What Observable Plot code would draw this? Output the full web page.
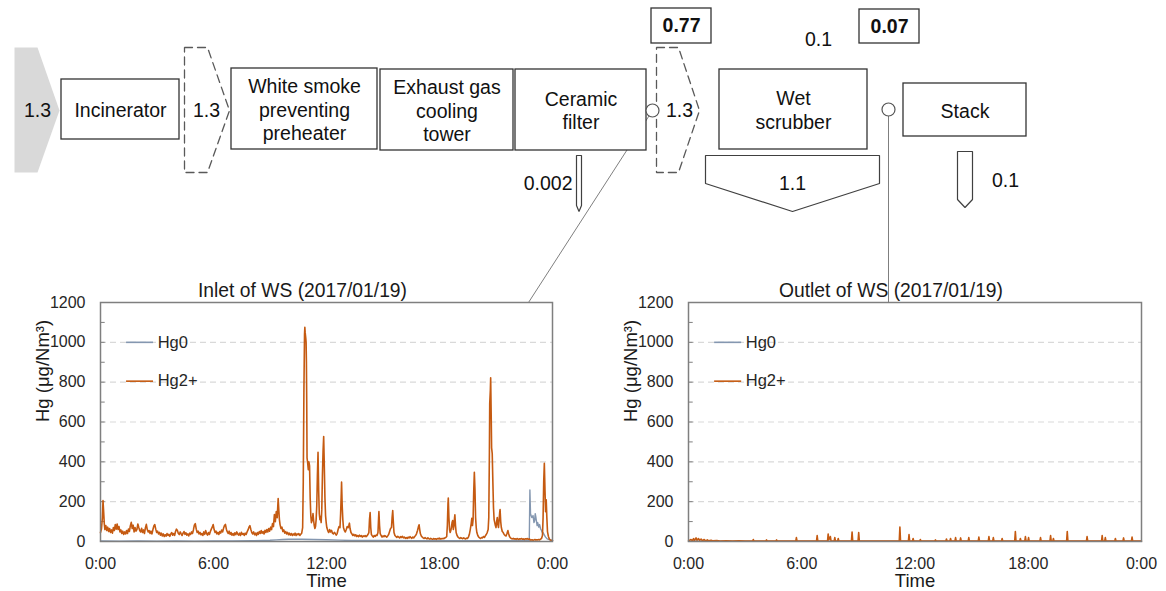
<!DOCTYPE html>
<html>
<head>
<meta charset="utf-8">
<script src="https://cdn.jsdelivr.net/npm/d3@7"></script>
<script src="https://cdn.jsdelivr.net/npm/@observablehq/plot@0.6"></script>
<style>
  html, body { margin: 0; padding: 0; background: #fff; }
  #fig { position: relative; width: 1166px; height: 591px; overflow: hidden; }
  #fig > div { position: absolute; }
</style>
</head>
<body>
<div id="fig">
  <div id="inlet" style="left:0;top:270px"></div>
  <div id="outlet" style="left:583px;top:270px"></div>
  <div id="flow" style="left:0;top:0"></div>
</div>
<script>
// ---------- process flow values (Hg balance) ----------
const unitNames = ["Incinerator", "White smoke\npreventing\npreheater", "Exhaust gas\ncooling\ntower", "Ceramic\nfilter", "Wet\nscrubber", "Stack"];
const gasFlow = [1.3, 1.3, 1.3, 0.1];        // feed, incinerator exit, filter exit, scrubber exit
const residueFlow = [0.002, 1.1, 0.1];       // filter ash, scrubber effluent, stack emission
const measuredHg = [0.77, 0.07];             // measured at scrubber inlet / outlet

// ---------- time series (minute of day, µg/Nm³) ----------
const seriesNames = ["Hg0", "Hg2+"];
const seriesColors = ["#8497b0", "#c55a11"];
const chartTitles = ["Inlet of WS (2017/01/19)", "Outlet of WS (2017/01/19)"];
const yLabel = "Hg (μg/Nm³)";
const xLabel = "Time";
const xTicks = [0, 360, 720, 1080, 1440];
const xTickLabels = ["0:00", "6:00", "12:00", "18:00", "0:00"];
const yTicks = [0, 200, 400, 600, 800, 1000, 1200];
const yGrid = [200, 400, 600, 800, 1000];
const yMinor = [100, 200, 300, 400, 500, 600, 700, 800, 900, 1000, 1100];

const inletHg0 = [[0,3],[60,2],[120,3],[180,2],[240,3],[300,2],[360,3],[420,3],[480,4],[520,5],[540,6],[560,8],[580,10],[600,11],[620,12],[640,11],[680,10],[720,9],[760,7],[800,5],[900,5],[1000,4],[1100,4],[1200,4],[1300,4],[1366,5],[1368,259],[1370,139],[1374,120],[1378,130],[1381,95],[1383,105],[1385,140],[1387,122],[1389,100],[1391,80],[1393,95],[1396,72],[1399,85],[1402,64],[1405,55],[1407,47],[1410,45],[1412,38],[1415,30],[1418,22],[1423,13],[1430,9],[1434,8],[1440,5]];

const inletHg2 = [[0,45],[3,62],[6,120],[8,205],[10,150],[12,90],[14,60],[17,80],[20,55],[23,72],[26,50],[29,65],[32,45],[35,58],[38,42],[41,70],[44,55],[47,85],[50,62],[53,88],[56,60],[59,75],[62,48],[65,58],[68,40],[71,52],[74,35],[77,48],[80,38],[83,55],[86,40],[89,62],[92,50],[95,78],[98,96],[101,65],[104,82],[107,48],[110,70],[113,52],[116,60],[119,88],[122,70],[125,55],[128,48],[131,66],[134,45],[137,58],[140,40],[143,68],[146,86],[149,60],[152,48],[155,55],[158,40],[161,52],[164,38],[167,60],[170,78],[173,85],[176,62],[179,45],[182,52],[185,38],[188,46],[191,32],[194,42],[197,28],[200,38],[203,25],[206,34],[209,27],[212,40],[215,30],[218,36],[221,26],[224,38],[227,45],[230,32],[233,40],[236,30],[239,50],[242,62],[245,55],[248,40],[251,35],[254,48],[257,38],[260,30],[263,42],[266,50],[269,36],[272,44],[275,32],[278,38],[281,28],[284,42],[287,35],[290,48],[293,40],[296,58],[299,82],[302,90],[305,62],[308,45],[311,52],[314,38],[317,46],[320,34],[323,40],[326,30],[329,48],[332,36],[335,55],[338,40],[341,32],[344,45],[347,35],[350,50],[353,62],[356,72],[359,85],[362,60],[365,45],[368,52],[371,38],[374,46],[377,35],[380,50],[383,42],[386,58],[389,48],[392,66],[395,80],[398,86],[401,62],[404,48],[407,40],[410,52],[413,36],[416,45],[419,32],[422,40],[425,30],[428,44],[431,34],[434,48],[437,38],[440,32],[443,42],[446,30],[449,46],[452,36],[455,40],[458,30],[461,42],[464,35],[467,48],[470,58],[473,72],[476,80],[479,60],[482,45],[485,38],[488,48],[491,34],[494,42],[497,30],[500,45],[503,36],[506,50],[509,40],[512,55],[515,42],[518,50],[521,38],[524,56],[527,45],[530,60],[533,48],[536,65],[539,52],[542,72],[545,60],[548,90],[551,75],[554,135],[557,100],[560,150],[563,120],[566,216],[568,160],[570,110],[572,85],[575,65],[578,72],[581,50],[584,58],[587,42],[590,50],[593,38],[596,46],[599,34],[602,42],[605,32],[608,40],[611,30],[614,38],[617,32],[620,42],[623,30],[626,38],[629,34],[632,40],[635,30],[638,36],[641,42],[644,70],[646,300],[648,750],[650,1040],[651,1075],[652,1050],[654,1020],[655,1000],[656,900],[657,700],[658,420],[660,395],[662,360],[664,400],[666,380],[668,220],[670,130],[672,95],[675,110],[677,140],[679,105],[681,80],[683,65],[685,75],[687,110],[689,180],[691,330],[693,448],[695,260],[697,140],[699,110],[701,125],[703,95],[705,160],[707,330],[709,450],[711,527],[713,380],[715,220],[717,130],[719,95],[721,70],[724,55],[727,45],[730,60],[733,48],[736,56],[739,42],[742,38],[745,46],[748,40],[751,32],[754,40],[757,60],[760,75],[763,70],[765,140],[767,240],[768,298],[770,180],[772,110],[774,70],[777,55],[780,48],[783,60],[786,75],[789,70],[791,80],[793,92],[795,65],[798,45],[801,38],[804,30],[807,36],[810,28],[813,34],[816,25],[819,30],[822,24],[825,32],[828,26],[831,30],[834,22],[837,28],[840,25],[843,30],[846,24],[849,28],[852,35],[855,45],[857,110],[859,145],[861,70],[863,35],[866,28],[869,22],[872,30],[875,25],[878,32],[881,30],[884,45],[886,120],[887,150],[889,80],[891,40],[894,30],[897,22],[900,28],[903,24],[906,30],[909,26],[912,22],[915,28],[918,35],[921,50],[924,65],[927,70],[929,120],[931,155],[933,95],[935,45],[938,30],[941,25],[944,20],[947,26],[950,22],[953,18],[956,24],[959,20],[962,26],[965,18],[968,22],[971,16],[974,20],[977,15],[980,22],[983,18],[986,24],[989,20],[992,16],[995,22],[998,18],[1001,25],[1004,30],[1007,40],[1010,55],[1013,75],[1015,84],[1017,60],[1019,40],[1022,28],[1025,22],[1028,18],[1031,15],[1034,20],[1037,16],[1040,13],[1043,18],[1046,14],[1049,12],[1052,16],[1055,13],[1058,11],[1061,15],[1064,12],[1067,14],[1070,11],[1073,15],[1076,13],[1079,17],[1082,12],[1085,15],[1088,13],[1091,16],[1094,14],[1097,18],[1100,20],[1103,25],[1105,80],[1107,190],[1108,218],[1110,120],[1112,60],[1114,45],[1116,55],[1118,70],[1120,95],[1122,105],[1124,60],[1126,80],[1128,120],[1129,134],[1131,80],[1133,45],[1136,30],[1139,22],[1142,18],[1145,15],[1148,20],[1151,16],[1154,14],[1157,18],[1160,15],[1163,13],[1166,17],[1169,15],[1172,22],[1175,35],[1178,60],[1181,90],[1183,117],[1185,80],[1187,110],[1189,250],[1191,348],[1193,260],[1195,120],[1197,70],[1199,45],[1202,30],[1205,22],[1208,18],[1211,15],[1214,20],[1217,18],[1220,25],[1223,20],[1226,28],[1229,35],[1232,45],[1235,60],[1237,120],[1239,450],[1240,692],[1242,760],[1243,822],[1245,600],[1246,470],[1248,441],[1250,300],[1252,170],[1254,110],[1256,95],[1258,80],[1260,70],[1262,100],[1264,120],[1266,85],[1268,70],[1270,110],[1272,150],[1273,160],[1275,100],[1277,70],[1280,50],[1283,45],[1286,35],[1289,30],[1292,28],[1295,40],[1298,55],[1300,40],[1303,25],[1306,18],[1309,15],[1312,13],[1315,16],[1318,12],[1321,14],[1324,11],[1327,15],[1330,12],[1333,10],[1336,14],[1339,12],[1342,15],[1345,11],[1348,13],[1351,10],[1354,14],[1357,12],[1360,15],[1363,11],[1366,13],[1369,8],[1372,7],[1375,9],[1378,6],[1381,8],[1384,10],[1387,7],[1390,9],[1393,8],[1396,10],[1399,8],[1402,12],[1405,15],[1408,30],[1410,120],[1412,300],[1414,393],[1416,260],[1418,150],[1420,209],[1422,120],[1424,50],[1427,25],[1430,12],[1433,8],[1436,6],[1440,5]];

const outletHg0 = [[0,1],[360,1],[720,1],[1080,1],[1440,1]];

const outletHg2 = [[0,3],[8,10],[12,4],[16,14],[19,5],[24,18],[27,6],[32,15],[35,5],[40,12],[44,4],[50,10],[54,3],[60,8],[64,3],[72,6],[78,3],[90,5],[100,2],[120,4],[140,2],[160,3],[180,2],[204,2],[206,10],[208,2],[246,2],[248,8],[250,2],[278,2],[280,8],[282,2],[341,2],[343,20],[345,2],[407,2],[409,30],[411,2],[442,2],[444,38],[446,8],[451,25],[453,3],[463,2],[465,20],[467,3],[474,2],[476,15],[478,2],[518,2],[520,47],[522,3],[539,2],[541,45],[543,3],[670,2],[672,72],[674,2],[699,2],[701,35],[703,2],[712,2],[714,15],[716,2],[735,2],[737,10],[739,2],[783,2],[785,8],[787,2],[818,2],[820,12],[822,2],[831,2],[833,15],[835,2],[847,2],[849,20],[851,2],[863,2],[865,18],[867,2],[889,2],[891,20],[893,2],[921,2],[923,22],[925,2],[953,2],[955,25],[957,2],[967,2],[969,20],[971,2],[995,2],[997,15],[999,2],[1037,2],[1039,50],[1041,2],[1053,2],[1055,15],[1057,2],[1069,2],[1071,25],[1073,2],[1079,2],[1081,20],[1083,2],[1117,2],[1119,20],[1121,2],[1149,2],[1151,30],[1153,2],[1158,2],[1160,15],[1162,2],[1202,2],[1204,50],[1206,2],[1265,2],[1267,25],[1269,2],[1313,2],[1315,30],[1317,2],[1323,2],[1325,20],[1327,2],[1355,2],[1357,15],[1359,2],[1381,2],[1383,18],[1385,2],[1408,2],[1410,22],[1412,2],[1440,2]];

// ---------- flow sheet layout (diagram units = px) ----------
const FONT = '"Liberation Sans", Arial, Helvetica, sans-serif';
const unitBox = [[61,79,179,139],[231,68,377,149],[380,69,513,150],[515,69,646,150],[719,69,867,149],[903,83,1026,136]];
const gasLabelPos = [[37,110],[206,110],[679,110],[818,39]];
const residueLabelPos = [[572,183,"end"],[792,183,"middle"],[1005,180,"middle"]];
const measuredBox = [[651,8,711,43],[859,9,919,43]];
const arrowShapes = [
  {id: "feed", kind: "feed", pts: [[14,47],[37,47],[59,110],[37,172],[14,172]]},
  {id: "gas1", kind: "gas", pts: [[184,47],[207,47],[229,110],[207,172],[184,172]]},
  {id: "gas2", kind: "gas", pts: [[656,47],[678,47],[699,110],[678,172],[656,172]]},
  {id: "ash", kind: "out", pts: [[576,155],[581,155],[581,205],[578.5,211],[576,205]]},
  {id: "eff", kind: "out", pts: [[705,155],[879,155],[879,183],[792,211],[705,183]]},
  {id: "stk", kind: "out", pts: [[957,151],[972,151],[972,199],[964.5,207],[957,199]]}
];
const samplePoints = [[652,110],[888,109]];
const leaderLines = [[652,110,528,302],[888,109,888,302]];

const units = unitNames.map((name, i) => ({name, x1: unitBox[i][0], y1: unitBox[i][1], x2: unitBox[i][2], y2: unitBox[i][3]}));
const arrowRows = arrowShapes.flatMap(s => s.pts.map(([x, y]) => ({id: s.id, kind: s.kind, x, y})));
const gasLabels = gasFlow.map((v, i) => ({label: String(v), x: gasLabelPos[i][0], y: gasLabelPos[i][1]}));
const residueLabels = residueFlow.map((v, i) => ({label: String(v), x: residueLabelPos[i][0], y: residueLabelPos[i][1], anchor: residueLabelPos[i][2]}));
const measured = measuredHg.map((v, i) => ({label: String(v), x1: measuredBox[i][0], y1: measuredBox[i][1], x2: measuredBox[i][2], y2: measuredBox[i][3]}));

const flowSheet = Plot.plot({
  width: 1166, height: 310, margin: 0,
  x: {domain: [0, 1166], range: [0, 1166], axis: null},
  y: {domain: [0, 310], range: [0, 310], axis: null},
  style: {background: "transparent", fontFamily: FONT, fontSize: "19.5px", color: "#111", overflow: "visible"},
  marks: [
    Plot.link(leaderLines, {x1: d => d[0], y1: d => d[1], x2: d => d[2], y2: d => d[3], stroke: "#7f7f7f", strokeWidth: 1}),
    Plot.line(arrowRows.filter(d => d.kind === "feed"), {x: "x", y: "y", z: "id", curve: "linear-closed", fill: "#d9d9d9", stroke: "none"}),
    Plot.line(arrowRows.filter(d => d.kind === "gas"), {x: "x", y: "y", z: "id", curve: "linear-closed", fill: "none", stroke: "#595959", strokeWidth: 1.3, strokeDasharray: "8,5", strokeLinejoin: "miter"}),
    Plot.line(arrowRows.filter(d => d.kind === "out"), {x: "x", y: "y", z: "id", curve: "linear-closed", fill: "white", stroke: "#404040", strokeWidth: 1.2, strokeLinejoin: "miter"}),
    Plot.rect(units, {x1: "x1", y1: "y1", x2: "x2", y2: "y2", fill: "white", stroke: "#333", strokeWidth: 1.3}),
    Plot.text(units, {x: d => (d.x1 + d.x2) / 2, y: d => (d.y1 + d.y2) / 2, text: "name", lineHeight: 1.2, lineAnchor: "middle", fill: "#111"}),
    Plot.text(gasLabels, {x: "x", y: "y", text: "label", lineAnchor: "middle", fill: "#111"}),
    Plot.text(residueLabels.filter(d => d.anchor === "end"), {x: "x", y: "y", text: "label", textAnchor: "end", lineAnchor: "middle", fill: "#111"}),
    Plot.text(residueLabels.filter(d => d.anchor === "middle"), {x: "x", y: "y", text: "label", textAnchor: "middle", lineAnchor: "middle", fill: "#111"}),
    Plot.rect(measured, {x1: "x1", y1: "y1", x2: "x2", y2: "y2", fill: "white", stroke: "#333", strokeWidth: 1.3}),
    Plot.text(measured, {x: d => (d.x1 + d.x2) / 2, y: d => (d.y1 + d.y2) / 2, text: "label", fontWeight: "bold", lineAnchor: "middle", fill: "#111"}),
    Plot.dot(samplePoints, {x: d => d[0], y: d => d[1], r: 6.5, fill: "white", stroke: "#555", strokeWidth: 1.2})
  ]
});
document.getElementById("flow").append(flowSheet);

// ---------- Hg concentration charts ----------
const xLabelOf = new Map(xTicks.map((t, i) => [t, xTickLabels[i]]));

function hgChart(title, hg0, hg2, marginLeft, marginRight) {
  const rows = pairs => pairs.map(([t, v]) => ({t, v}));
  return Plot.plot({
    width: 583, height: 321, marginLeft, marginRight, marginTop: 32, marginBottom: 50,
    x: {domain: [0, 1440], axis: null},
    y: {domain: [0, 1200], axis: null},
    style: {background: "transparent", fontFamily: FONT, fontSize: "16px", color: "#262626", overflow: "visible"},
    marks: [
      Plot.ruleY(yGrid, {stroke: "#d9d9d9", strokeWidth: 1.2, strokeDasharray: "6,4"}),
      Plot.ruleY(yMinor, {x1: 0, x2: 15, stroke: "#7f7f7f", strokeWidth: 1}),
      Plot.line(rows(hg0), {x: "t", y: "v", stroke: seriesColors[0], strokeWidth: 1.4}),
      Plot.line(rows(hg2), {x: "t", y: "v", stroke: seriesColors[1], strokeWidth: 1.6}),
      Plot.frame({stroke: "#7f7f7f", strokeWidth: 1.5}),
      Plot.axisX({ticks: xTicks, tickFormat: d => xLabelOf.get(d), tickSize: 0, tickPadding: 16, label: null, fontSize: 16}),
      Plot.axisY({ticks: yTicks, tickFormat: d => String(d), tickSize: 0, tickPadding: 15, label: null, fontSize: 16}),
      Plot.ruleY([1000], {x1: 83, x2: 169, stroke: seriesColors[0], strokeWidth: 1.6}),
      Plot.ruleY([805], {x1: 83, x2: 169, stroke: seriesColors[1], strokeWidth: 1.6}),
      Plot.text([seriesNames[0]], {x: 182, y: 1000, text: d => d, textAnchor: "start", lineAnchor: "middle", fontSize: 16.5, fill: "#262626"}),
      Plot.text([seriesNames[1]], {x: 182, y: 805, text: d => d, textAnchor: "start", lineAnchor: "middle", fontSize: 16.5, fill: "#262626"}),
      Plot.text([title], {frameAnchor: "top", dy: -12, dx: -24, text: d => d, lineAnchor: "middle", fontSize: 19.3, fill: "#1a1a1a"}),
      Plot.text([yLabel], {frameAnchor: "left", dx: -57, rotate: -90, text: d => d, lineAnchor: "middle", fontSize: 18.5, fill: "#1a1a1a"}),
      Plot.text([xLabel], {frameAnchor: "bottom", dy: 40, text: d => d, lineAnchor: "middle", fontSize: 18.5, fill: "#1a1a1a"})
    ]
  });
}

document.getElementById("inlet").append(hgChart(chartTitles[0], inletHg0, inletHg2, 100, 31));
document.getElementById("outlet").append(hgChart(chartTitles[1], outletHg0, outletHg2, 105, 25));
</script>
</body>
</html>
